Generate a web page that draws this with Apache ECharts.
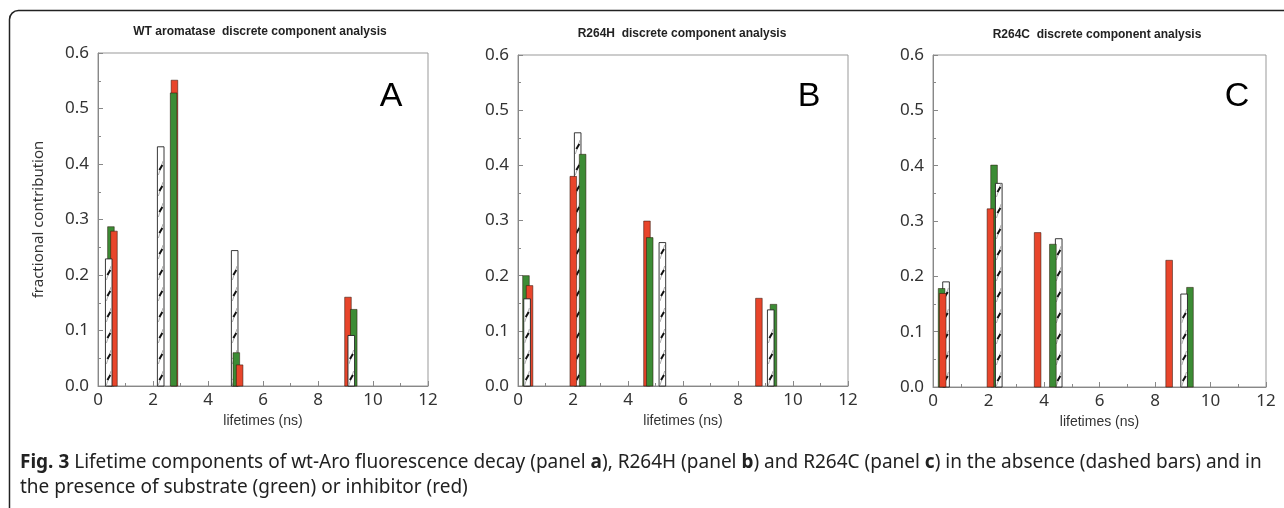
<!DOCTYPE html>
<html>
<head>
<meta charset="utf-8">
<script src="https://cdn.jsdelivr.net/npm/echarts@6/dist/echarts.min.js"></script>
<style>
html,body{margin:0;padding:0;background:#fff;}
#chart{width:1284px;height:508px;}
</style>
</head>
<body>
<div id="chart"></div>
<script>
// ---------- DATA ----------
const panelTitles = ['WT aromatase  discrete component analysis', 'R264H  discrete component analysis', 'R264C  discrete component analysis'];
const panelLetters = ['A', 'B', 'C'];
const xAxisName = 'lifetimes (ns)';
const yAxisName = 'fractional contribution';

// Panel A (WT)
const aGreenX = [0.47, 2.75, 5.03, 9.30];
const aGreenY = [0.287, 0.528, 0.060, 0.138];
const aRedX   = [0.58, 2.78, 5.15, 9.09];
const aRedY   = [0.279, 0.551, 0.038, 0.160];
const aDashX  = [0.39, 2.28, 4.97, 9.21];
const aDashY  = [0.229, 0.431, 0.244, 0.091];

// Panel B (R264H)
const bGreenX = [0.29, 2.35, 4.79, 9.29];
const bGreenY = [0.200, 0.420, 0.269, 0.148];
const bRedX   = [0.42, 2.01, 4.69, 8.76];
const bRedY   = [0.182, 0.380, 0.299, 0.159];
const bDashX  = [0.33, 2.17, 5.25, 9.19];
const bDashY  = [0.158, 0.459, 0.260, 0.138];

// Panel C (R264C)
const cGreenX = [0.31, 2.20, 4.32, 9.26];
const cGreenY = [0.178, 0.401, 0.258, 0.180];
const cRedX   = [0.35, 2.07, 3.77, 8.51];
const cRedY   = [0.169, 0.322, 0.279, 0.229];
const cDashX  = [0.47, 2.37, 4.53, 9.05];
const cDashY  = [0.190, 0.368, 0.268, 0.168];

const xTicks = [0, 2, 4, 6, 8, 10, 12];
const yTicks = [0.0, 0.1, 0.2, 0.3, 0.4, 0.5, 0.6];

const captionLine1 = 'Fig. 3';
const captionText1 = ' Lifetime components of wt-Aro fluorescence decay (panel ';
const captionText2 = '), R264H (panel ';
const captionText3 = ') and R264C (panel ';
const captionText4 = ') in the absence (dashed bars) and in';
const captionLine2 = 'the presence of substrate (green) or inhibitor (red)';

// ---------- STYLE / LAYOUT ----------
const RED = '#e8452b';
const GREEN = '#3c8c35';
const BW = 0.24; // bar width in x units
const grids = [
  {left: 98, top: 53, width: 330, height: 333},
  {left: 518, top: 55, width: 330, height: 331},
  {left: 933, top: 55, width: 333, height: 332}
];

function pairs(xs, ys) { return xs.map((x, i) => [x, ys[i]]); }

function makeRender(kind) {
  return function (params, api) {
    const x = api.value(0), y = api.value(1);
    const p0 = api.coord([x - BW / 2, y]);
    const p1 = api.coord([x + BW / 2, 0]);
    const x0 = p0[0], y0 = p0[1], w = p1[0] - p0[0], h = p1[1] - p0[1];
    const base = Math.round((1 - y) * 1000) * 4;
    if (kind !== 'dash') {
      return {
        type: 'rect', z2: base,
        shape: {x: x0, y: y0, width: w, height: h},
        style: {fill: kind === 'red' ? RED : GREEN, stroke: 'rgba(40,20,10,0.65)', lineWidth: 0.8}
      };
    }
    const children = [{
      type: 'rect', z2: base,
      shape: {x: x0, y: y0, width: w, height: h},
      style: {fill: '#fff', stroke: '#222', lineWidth: 0.9}
    }];
    const x1 = x0 + w;
    for (let yy = p1[1] - 7; yy > y0 + 7; yy -= 21) {
      children.push({
        type: 'line', z2: base + 1,
        shape: {x1: x0 + 1, y1: yy + 6, x2: x1 - 1, y2: yy - 8},
        style: {stroke: '#999', lineWidth: 0.8}
      });
      children.push({
        type: 'line', z2: base + 2,
        shape: {x1: x0 + w * 0.3, y1: yy + 1, x2: x0 + w * 0.75, y2: yy - 4},
        style: {stroke: '#111', lineWidth: 2}
      });
    }
    return {type: 'group', children: children};
  };
}

const panelData = [
  [pairs(aGreenX, aGreenY), pairs(aRedX, aRedY), pairs(aDashX, aDashY)],
  [pairs(bGreenX, bGreenY), pairs(bRedX, bRedY), pairs(bDashX, bDashY)],
  [pairs(cGreenX, cGreenY), pairs(cRedX, cRedY), pairs(cDashX, cDashY)]
];

const tickFont = {fontFamily: 'Noto Sans', fontSize: 17, color: '#333'};

const option = {
  animation: false,
  backgroundColor: '#fff',
  grid: grids.map(g => Object.assign({show: true, borderColor: '#999', borderWidth: 1, backgroundColor: 'transparent'}, g)),
  xAxis: grids.map((g, i) => ({
    type: 'value', gridIndex: i, min: xTicks[0], max: xTicks[xTicks.length - 1], interval: 2,
    axisLine: {show: true, lineStyle: {color: '#888', width: 1}},
    axisTick: {show: true, inside: true, length: 5, lineStyle: {color: '#888'}},
    minorTick: {show: true, splitNumber: 2, length: 3, lineStyle: {color: '#888'}},
    splitLine: {show: false},
    axisLabel: Object.assign({margin: 6}, tickFont),
    name: xAxisName, nameLocation: 'middle', nameGap: 21,
    nameTextStyle: {fontFamily: 'Liberation Sans Narrow, Liberation Sans', fontSize: 14, color: '#333'}
  })),
  yAxis: grids.map((g, i) => ({
    type: 'value', gridIndex: i, min: yTicks[0], max: yTicks[yTicks.length - 1], interval: 0.1,
    axisLine: {show: true, lineStyle: {color: '#888', width: 1}},
    axisTick: {show: true, inside: true, length: 5, lineStyle: {color: '#888'}},
    minorTick: {show: true, splitNumber: 2, length: 3, lineStyle: {color: '#888'}},
    splitLine: {show: false},
    axisLabel: Object.assign({margin: 9, formatter: v => v.toFixed(1)}, tickFont),
    name: i === 0 ? yAxisName : '', nameLocation: 'middle', nameGap: 52, nameRotate: 90,
    nameTextStyle: {fontFamily: 'Noto Sans', fontSize: 15, color: '#333'}
  })),
  series: [],
  graphic: []
};

panelData.forEach((sets, i) => {
  ['green', 'red', 'dash'].forEach((kind, k) => {
    option.series.push({
      type: 'custom', xAxisIndex: i, yAxisIndex: i,
      renderItem: makeRender(kind), data: sets[k], clip: false
    });
  });
});

const titleCenters = [[260, 32], [682, 34], [1097, 35]];
const letterCenters = [[391, 97], [809, 97], [1237, 97]];
panelTitles.forEach((t, i) => {
  option.graphic.push({
    type: 'text', x: titleCenters[i][0], y: titleCenters[i][1],
    style: {text: t, fontFamily: 'Liberation Sans', fontWeight: 'bold', fontSize: 12, fill: '#222', align: 'center', verticalAlign: 'middle'}
  });
  option.graphic.push({
    type: 'text', x: letterCenters[i][0], y: letterCenters[i][1],
    style: {text: panelLetters[i], fontFamily: 'Liberation Sans', fontSize: 34, fill: '#000', align: 'center', verticalAlign: 'middle'}
  });
});

// frame
option.graphic.push({
  type: 'rect', shape: {x: 9.5, y: 10.5, width: 1300, height: 520, r: 9},
  style: {fill: 'none', stroke: '#222', lineWidth: 1.5}, silent: true
});

// caption
const capFont = 'Noto Sans';
const capSize = 19;
option.graphic.push({
  type: 'text', x: 20, y: 463,
  style: {
    text: '{b|' + captionLine1 + '}' + captionText1 + '{b|a}' + captionText2 + '{b|b}' + captionText3 + '{b|c}' + captionText4,
    fontFamily: capFont, fontSize: capSize, fill: '#222', verticalAlign: 'middle',
    rich: {b: {fontFamily: capFont, fontWeight: 'bold', fontSize: capSize, fill: '#222'}}
  }
});
option.graphic.push({
  type: 'text', x: 20, y: 488,
  style: {text: captionLine2, fontFamily: capFont, fontSize: capSize, fill: '#222', verticalAlign: 'middle'}
});

const chart = echarts.init(document.getElementById('chart'), null, {renderer: 'canvas'});
chart.setOption(option);
</script>
</body>
</html>
